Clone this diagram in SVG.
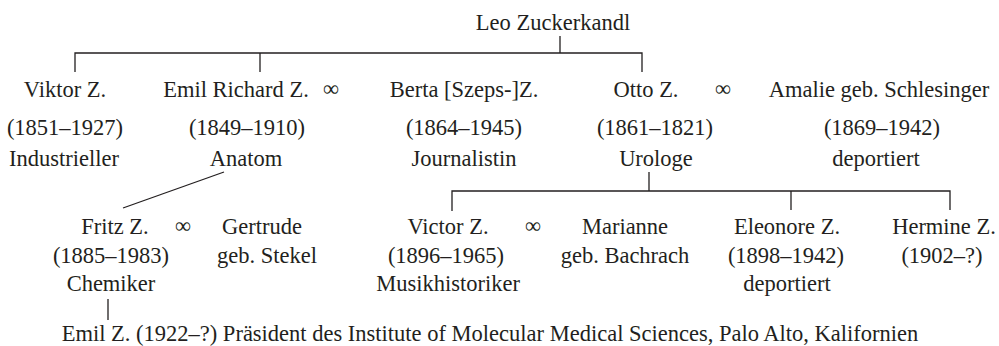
<svg xmlns="http://www.w3.org/2000/svg" width="999" height="346" viewBox="0 0 999 346">
<style>
.t text{font-size:22.5px;fill:#231f20;text-anchor:middle}
.c line,.c polyline{stroke:#231f20;stroke-width:1.3;fill:none}
</style>
<rect width="999" height="346" fill="#fff"/>
<g class="c" id="connectors">
<line x1="560" y1="36" x2="560" y2="53"/>
<polyline points="75,72 75,53 642,53 642,72"/>
<line x1="260" y1="53" x2="260" y2="72"/>
<line x1="224" y1="172" x2="123" y2="208"/>
<line x1="649" y1="172" x2="649" y2="191"/>
<polyline points="452,211 452,191 950,191 950,210"/>
<line x1="791" y1="191" x2="791" y2="210"/>
<line x1="108" y1="299" x2="108" y2="320"/>
</g>
<g class="t" font-family="Liberation Serif, DejaVu Serif, serif">
<g id="leo"><text x="553" y="30">Leo Zuckerkandl</text></g>
<g id="viktor"><text x="65" y="97">Viktor Z.</text><text x="65" y="135">(1851–1927)</text><text x="64" y="166">Industrieller</text></g>
<g id="emil-richard"><text x="236" y="97">Emil Richard Z.</text><text x="247" y="135">(1849–1910)</text><text x="246" y="166">Anatom</text></g>
<g id="m1"><text x="331" y="96">∞</text></g>
<g id="berta"><text x="464" y="97">Berta [Szeps-]Z.</text><text x="464" y="135">(1864–1945)</text><text x="464" y="166">Journalistin</text></g>
<g id="otto"><text x="646" y="97">Otto Z.</text><text x="655" y="135">(1861–1821)</text><text x="656" y="166">Urologe</text></g>
<g id="m2"><text x="723" y="96">∞</text></g>
<g id="amalie"><text x="879" y="97">Amalie geb. Schlesinger</text><text x="882" y="135">(1869–1942)</text><text x="876" y="166">deportiert</text></g>
<g id="fritz"><text x="115" y="234">Fritz Z.</text><text x="111" y="263">(1885–1983)</text><text x="111" y="291">Chemiker</text></g>
<g id="m3"><text x="183" y="233">∞</text></g>
<g id="gertrude"><text x="262" y="234">Gertrude</text><text x="267" y="263">geb. Stekel</text></g>
<g id="victor"><text x="448" y="234">Victor Z.</text><text x="446" y="263">(1896–1965)</text><text x="448" y="291">Musikhistoriker</text></g>
<g id="m4"><text x="533" y="233">∞</text></g>
<g id="marianne"><text x="625" y="234">Marianne</text><text x="625" y="263">geb. Bachrach</text></g>
<g id="eleonore"><text x="787" y="234">Eleonore Z.</text><text x="786" y="263">(1898–1942)</text><text x="787" y="291">deportiert</text></g>
<g id="hermine"><text x="944" y="234">Hermine Z.</text><text x="942" y="263">(1902–?)</text></g>
<g id="emil"><text x="490" y="341">Emil Z. (1922–?) Präsident des Institute of Molecular Medical Sciences, Palo Alto, Kalifornien</text></g>
</g>
</svg>
